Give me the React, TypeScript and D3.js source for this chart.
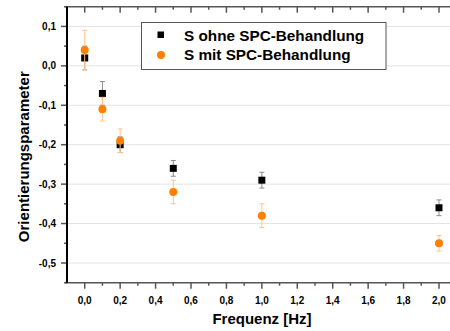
import React from "react";
import * as d3 from "d3";

const freq = [0.0, 0.1, 0.2, 0.5, 1.0, 2.0];
const ohneValues = [0.02, -0.07, -0.2, -0.26, -0.29, -0.36];
const ohneErrors = [0.03, 0.03, 0.02, 0.02, 0.02, 0.02];
const mitValues = [0.04, -0.11, -0.19, -0.32, -0.38, -0.45];
const mitErrors = [0.05, 0.03, 0.03, 0.03, 0.03, 0.02];
const xMajorTicks = [0.0, 0.2, 0.4, 0.6, 0.8, 1.0, 1.2, 1.4, 1.6, 1.8, 2.0];
const xMinorTicks = [0.1, 0.3, 0.5, 0.7, 0.9, 1.1, 1.3, 1.5, 1.7, 1.9];
const yMajorTicks = [0.1, 0.0, -0.1, -0.2, -0.3, -0.4, -0.5];
const yMinorTicks = [0.15, 0.05, -0.05, -0.15, -0.25, -0.35, -0.45, -0.55];
const seriesNames = ["S ohne SPC-Behandlung", "S mit SPC-Behandlung"];

const W = 450;
const H = 331;
const FONT = "'Liberation Sans', Arial, sans-serif";
const ORANGE = "#ff8000";
const fmt = (v: number) => d3.format(".1f")(v).replace(".", ",").replace("−", "-");

export default function App() {
  const x = d3.scaleLinear().domain([-0.1, 2.1]).range([67, 456.7]);
  const y = d3.scaleLinear().domain([-0.55, 0.15]).range([282.7, 6.7]);
  const left = x(-0.1);
  const top = y(0.15);
  const bottom = y(-0.55);

  const errBar = (xv: number, v: number, e: number, color: string, key: string) => {
    const cx = x(xv);
    return (
      <g key={key} stroke={color} strokeWidth={1}>
        <line x1={cx} x2={cx} y1={y(v + e)} y2={y(v - e)} />
        <line x1={cx - 2.5} x2={cx + 2.5} y1={y(v + e)} y2={y(v + e)} />
        <line x1={cx - 2.5} x2={cx + 2.5} y1={y(v - e)} y2={y(v - e)} />
      </g>
    );
  };

  return (
    <svg width={W} height={H} style={{ position: "absolute", left: 0, top: 0, display: "block" }} fontFamily={FONT}>
      <rect width={W} height={H} fill="#fff" />
      {yMajorTicks.map((t) => (
        <line key={"g" + t} x1={left} x2={W} y1={y(t)} y2={y(t)} stroke="#e3e3e3" strokeWidth={1} />
      ))}
      <line x1={left - 2} x2={W} y1={top} y2={top} stroke="#555" strokeWidth={1.5} />
      {xMajorTicks.map((t) => (
        <line key={"tM" + t} x1={x(t)} x2={x(t)} y1={top} y2={top + 6} stroke="#555" strokeWidth={1.5} />
      ))}
      {xMinorTicks.map((t) => (
        <line key={"tm" + t} x1={x(t)} x2={x(t)} y1={top} y2={top + 3} stroke="#555" strokeWidth={1.5} />
      ))}
      <line x1={left - 2} x2={W} y1={bottom} y2={bottom} stroke="#555" strokeWidth={1.5} />
      {xMajorTicks.map((t) => (
        <line key={"bM" + t} x1={x(t)} x2={x(t)} y1={bottom} y2={bottom + 6} stroke="#555" strokeWidth={1.5} />
      ))}
      {xMinorTicks.map((t) => (
        <line key={"bm" + t} x1={x(t)} x2={x(t)} y1={bottom} y2={bottom + 3} stroke="#555" strokeWidth={1.5} />
      ))}
      {xMajorTicks.map((t) => (
        <text key={"bl" + t} x={x(t)} y={304} textAnchor="middle" fontSize={10} fontWeight="bold" fill="#000">
          {fmt(t)}
        </text>
      ))}
      {yMajorTicks.map((t) => (
        <line key={"lM" + t} x1={left - 6} x2={left} y1={y(t)} y2={y(t)} stroke="#555" strokeWidth={1.5} />
      ))}
      {yMinorTicks.map((t) => (
        <line key={"lm" + t} x1={left - 3} x2={left} y1={y(t)} y2={y(t)} stroke="#555" strokeWidth={1.5} />
      ))}
      {yMajorTicks.map((t) => (
        <text key={"ll" + t} x={56} y={y(t) + 3.6} textAnchor="end" fontSize={10} fontWeight="bold" fill="#000">
          {fmt(t)}
        </text>
      ))}
      <line x1={left} x2={left} y1={top} y2={bottom} stroke="#000" strokeWidth={2} />
      <text x={262} y={324} textAnchor="middle" fontSize={15} fontWeight="bold" fill="#000">
        Frequenz [Hz]
      </text>
      <text
        transform={`translate(29,156.7) rotate(-90)`}
        textAnchor="middle"
        fontSize={15}
        fontWeight="bold"
        fill="#000"
      >
        Orientierungsparameter
      </text>
      {freq.map((f, i) => errBar(f, ohneValues[i], ohneErrors[i], "#8a8a8a", "eo" + i))}
      {freq.map((f, i) => (
        <rect key={"so" + i} x={x(f) - 3.5} y={y(ohneValues[i]) - 3.5} width={7} height={7} fill="#000" />
      ))}
      {freq.map((f, i) => errBar(f, mitValues[i], mitErrors[i], "#ffc48c", "em" + i))}
      {freq.map((f, i) => (
        <circle key={"cm" + i} cx={x(f)} cy={y(mitValues[i])} r={4} fill={ORANGE} />
      ))}
      <rect x={141.5} y={22.5} width={244.5} height={47} fill="#fff" stroke="#555" strokeWidth={1} />
      <rect x={157.5} y={31.5} width={6.5} height={6.5} fill="#000" />
      <circle cx={161} cy={55} r={4} fill={ORANGE} />
      <text x={184} y={40.7} fontSize={15.3} fontWeight="bold" fill="#000">
        {seriesNames[0]}
      </text>
      <text x={184} y={59.5} fontSize={15.3} fontWeight="bold" fill="#000">
        {seriesNames[1]}
      </text>
    </svg>
  );
}
